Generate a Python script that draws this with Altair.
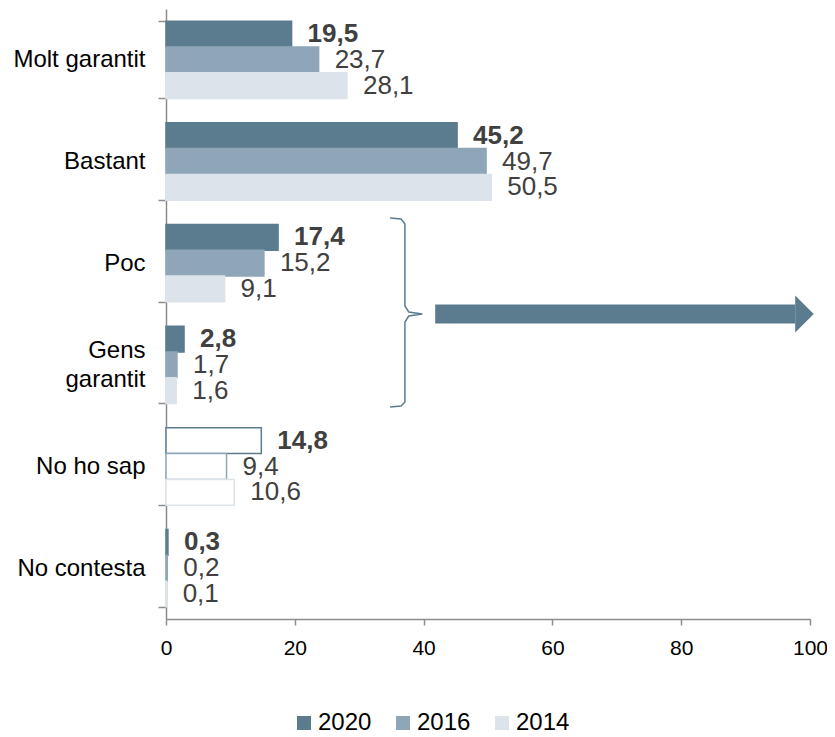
import altair as alt
import pandas as pd

# ---- data ----
categories = ["Molt garantit", "Bastant", "Poc", "Gens garantit", "No ho sap", "No contesta"]
years = ["2020", "2016", "2014"]
v2020 = [19.5, 45.2, 17.4, 2.8, 14.8, 0.3]
v2016 = [23.7, 49.7, 15.2, 1.7, 9.4, 0.2]
v2014 = [28.1, 50.5, 9.1, 1.6, 10.6, 0.1]
x_ticks = [0, 20, 40, 60, 80, 100]

# ---- styling ----
colors = ["#5B7C8F", "#8EA6B8", "#DCE3EA"]
FONT = "Liberation Sans"
W, H = 644, 610
AXIS_GREY = "#8C8C8C"

rows = []
for yr, vals in zip(years, [v2020, v2016, v2014]):
    for c, v in zip(categories, vals):
        rows.append({"cat": c, "year": yr, "value": v,
                     "label": f"{v:.1f}".replace(".", ",")})
df = pd.DataFrame(rows)

xscale = alt.Scale(domain=[0, 100], nice=False)
yscale = alt.Scale(domain=categories, paddingInner=0.24, paddingOuter=0.12)
oscale = alt.Scale(domain=years, paddingInner=0, paddingOuter=0)
cscale = alt.Scale(domain=years, range=colors)

x_axis = alt.Axis(values=x_ticks, title=None, grid=False, domainColor=AXIS_GREY,
                  domainWidth=1.5, tickColor=AXIS_GREY, tickWidth=1.5, tickSize=6,
                  labelFontSize=21, labelFont=FONT, labelColor="#000000",
                  labelPadding=12, labelFlush=False)
x_enc = alt.X("value:Q", scale=xscale, axis=x_axis, title=None)
y_axis = alt.Axis(title=None, tickBand="extent", domainColor=AXIS_GREY, domainWidth=1.5,
                  tickColor=AXIS_GREY, tickWidth=1.5, tickSize=8, labelFontSize=24,
                  labelFont=FONT, labelColor="#000000", labelPadding=13, labelLineHeight=29,
                  labelLimit=200,
                  labelOffset={"condition": {"test": "datum.value == 'Gens garantit'", "value": -14},
                               "value": 0},
                  labelExpr="datum.label == 'Gens garantit' ? ['Gens\u00a0\u00a0', 'garantit'] : datum.label")
y_enc = alt.Y("cat:N", scale=yscale, sort=categories, axis=y_axis, title=None)
off_enc = alt.YOffset("year:N", scale=oscale, sort=years)

legend = alt.Legend(title=None, orient="none", legendX=126, legendY=702, direction="horizontal",
                    symbolType="square", symbolSize=196, symbolStrokeWidth=0,
                    labelFontSize=24, labelFont=FONT, labelColor="#000000",
                    columnPadding=19, labelOffset=2)

bars = alt.Chart(df).mark_bar(strokeWidth=1.5).encode(
    x=x_enc, y=y_enc, yOffset=off_enc,
    fill=alt.condition(alt.datum.cat == "No ho sap", alt.value("white"),
                       alt.Fill("year:N", scale=cscale, sort=years, legend=legend)),
    stroke=alt.Stroke("year:N", scale=cscale, sort=years, legend=None),
)

tbase = alt.Chart(df).encode(x=x_enc, y=y_enc, yOffset=off_enc, text="label:N")
t_bold = tbase.transform_filter(alt.datum.year == "2020").mark_text(
    align="left", baseline="middle", dx=16, fontSize=26, font=FONT, fontWeight="bold",
    color="#404040")
t_norm = tbase.transform_filter(alt.datum.year != "2020").mark_text(
    align="left", baseline="middle", dx=16, fontSize=26, font=FONT, color="#404040")

# ---- annotation: arrow pointing right from the bracket ----
arrow_x = [41.8]
arrow_x2 = [97.7]
shaft = alt.Chart(pd.DataFrame({"value": arrow_x, "end": arrow_x2})).mark_rule(
    strokeWidth=19, color=colors[0], strokeCap="butt").encode(
    x=x_enc, x2="end:Q", y=alt.value(H / 2))
head = alt.Chart(pd.DataFrame({"value": arrow_x2})).mark_point(
    shape="M0,-1L1,0L0,1Z", filled=True, size=37 * 37, opacity=1, color=colors[0],
    strokeWidth=0).encode(x=x_enc, y=alt.value(H / 2))

main = alt.layer(bars, t_norm, t_bold, shaft, head)

# ---- annotation: curly bracket grouping "Poc" and "Gens garantit" ----
br_x = [34.8, 36.5, 37.1, 37.1, 37.7, 39.8, 37.7, 37.1, 37.1, 36.5, 34.8]
br_y = [209, 210, 215, 297, 303, 305, 307, 313, 393, 397, 398]
br = pd.DataFrame({"value": br_x, "by": br_y, "o": list(range(len(br_x)))})
bracket = alt.Chart(br).mark_line(color=colors[0], strokeWidth=1.5).encode(
    x=x_enc,
    y=alt.Y("by:Q", scale=alt.Scale(domain=[H, 0], nice=False, zero=False), axis=None),
    order="o:Q")

chart = alt.layer(main, bracket).resolve_scale(y="independent").properties(
    width=W, height=H,
    autosize=alt.AutoSizeParams(type="none"),
    padding={"left": 158, "top": 1, "right": 17, "bottom": 118},
).configure_view(stroke=None)

chart.save("out.html", embed_options={"renderer": "svg", "actions": False})
